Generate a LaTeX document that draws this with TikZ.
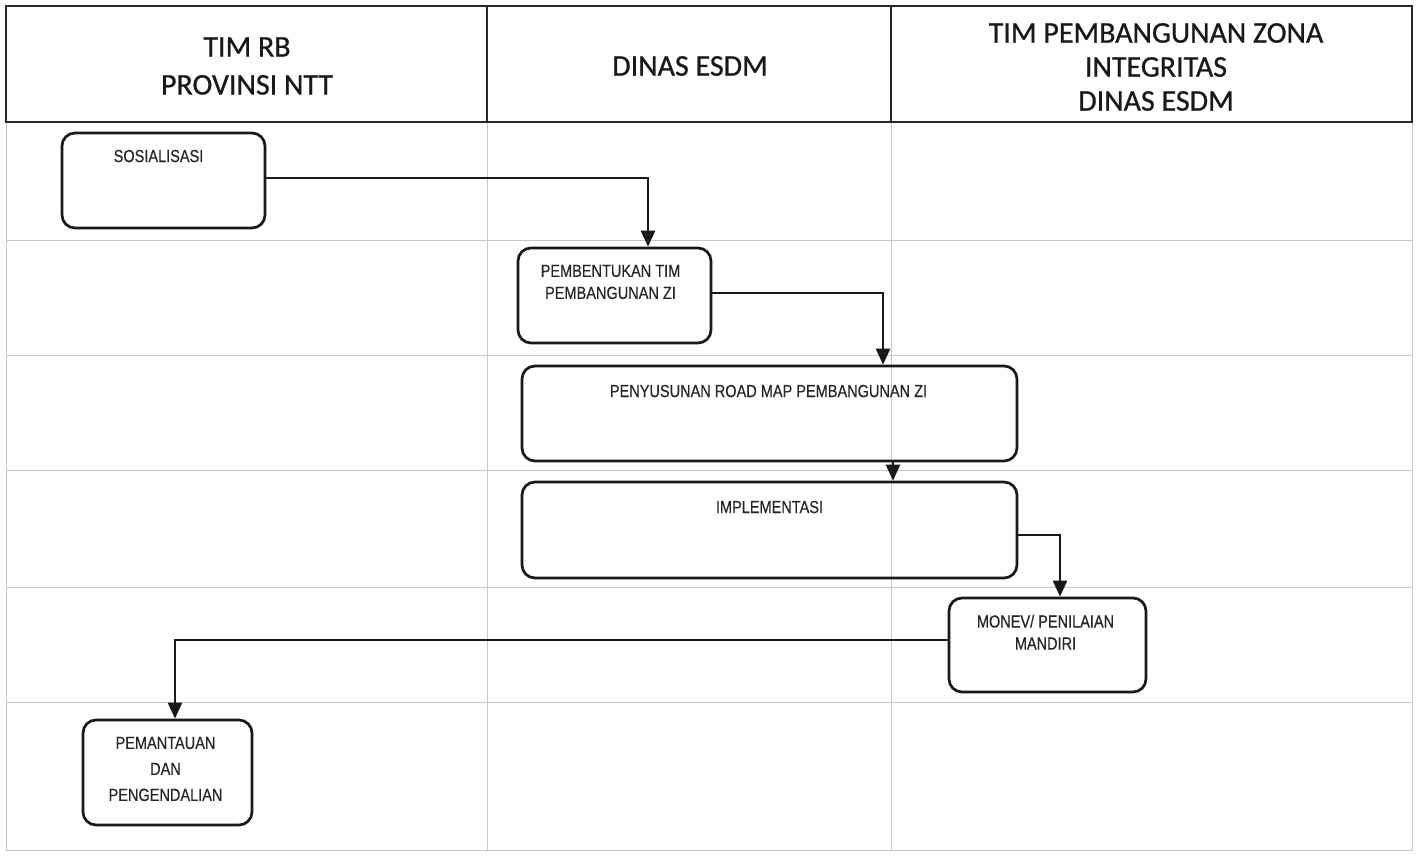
\documentclass[tikz,border=0pt]{standalone}
\usepackage{fontspec}
\setmainfont{Carlito}
\newfontfamily\hdrfont[FakeBold=0.8]{Carlito}
\newfontfamily\boxfont[FakeStretch=0.83,FakeBold=0.4]{Liberation Sans}
\usetikzlibrary{arrows.meta}
\begin{document}
\begin{tikzpicture}[x=1pt,y=-1pt,
  frame/.style={line width=2pt, draw=black!85},
  gridline/.style={line width=0.8pt, draw=black!22},
  flowbox/.style={draw=black!90, line width=2.7pt, rounded corners=13pt, inner sep=0pt},
  boxtext/.style={font=\boxfont\fontsize{17.5}{22}\selectfont, align=center, inner sep=0pt, text=black!85},
  hdr/.style={font=\hdrfont\fontsize{30}{38}\selectfont, align=center, text=black!90},
  flow/.style={line width=2.5pt, draw=black!90, -{Triangle[length=16pt,width=14pt]}}
]
\useasboundingbox (0,0) rectangle (1421,855);
\fill[white] (0,0) rectangle (1421,855);
% lane grid
\foreach \yy in {240,355,470,587,702} \draw[gridline] (6,\yy) -- (1412,\yy);
\draw[gridline] (487,122) -- (487,850);
\draw[gridline] (891,122) -- (891,850);
\draw[gridline] (6,122) -- (6,850) -- (1412,850) -- (1412,122);
% header
\draw[frame] (6,6) rectangle (1412,122);
\draw[frame] (487,6) -- (487,122);
\draw[frame] (891,6) -- (891,122);
\node[hdr] (h1) at (247,66) {TIM RB\\PROVINSI NTT};
\node[hdr] (h2) at (690,66) {DINAS ESDM};
\node[hdr, font=\hdrfont\fontsize{30}{34}\selectfont] (h3) at (1156,67) {TIM PEMBANGUNAN ZONA\\INTEGRITAS\\DINAS ESDM};
% boxes
\node[flowbox, minimum width=203pt, minimum height=95pt,
  label={[boxtext, anchor=north, yshift=-18pt, xshift=-5pt]north:SOSIALISASI}] (sos) at (163.5,180.5) {};
\node[flowbox, minimum width=193pt, minimum height=95pt,
  label={[boxtext, anchor=north, yshift=-18pt, xshift=-4pt]north:PEMBENTUKAN TIM\\PEMBANGUNAN ZI}] (pem) at (614.5,295.5) {};
\node[flowbox, minimum width=495pt, minimum height=95pt,
  label={[boxtext, anchor=north, yshift=-20pt, xshift=-1pt]north:PENYUSUNAN ROAD MAP PEMBANGUNAN ZI}] (road) at (769.5,413.5) {};
\node[flowbox, minimum width=495pt, minimum height=96pt,
  label={[boxtext, anchor=north, yshift=-20pt]north:IMPLEMENTASI}] (impl) at (769.5,530) {};
\node[flowbox, minimum width=197pt, minimum height=94pt,
  label={[boxtext, anchor=north, yshift=-18pt, xshift=-2pt]north:MONEV/ PENILAIAN\\MANDIRI}] (monev) at (1047.5,645) {};
\node[flowbox, minimum width=169pt, minimum height=105pt,
  label={[boxtext, anchor=north, yshift=-18pt, xshift=-2pt, font=\boxfont\fontsize{17.5}{26}\selectfont]north:PEMANTAUAN\\DAN\\PENGENDALIAN}] (pant) at (167.5,772.5) {};
% connectors
\draw[flow] ([yshift=2.5pt]sos.east) -| ([xshift=33.5pt]pem.north);
\draw[flow] ([yshift=2.5pt]pem.east) -| ([xshift=113.5pt]road.north);
\draw[flow] ([xshift=123.5pt]road.south) -- ([xshift=123.5pt]impl.north);
\draw[flow] ([yshift=-5pt]impl.east) -| ([xshift=12.5pt]monev.north);
\draw[flow] ([yshift=5pt]monev.west) -| ([xshift=7.5pt]pant.north);
\end{tikzpicture}
\end{document}
